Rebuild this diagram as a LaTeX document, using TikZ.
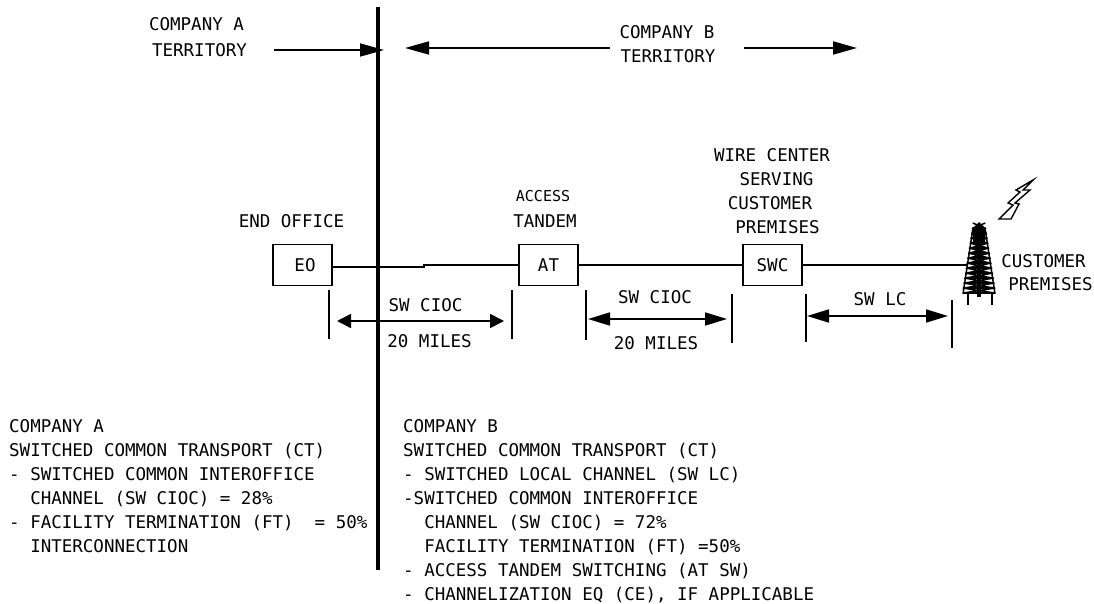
\documentclass[tikz,border=0pt]{standalone}
\usepackage{fontspec}
\setmainfont{DejaVu Sans Mono}
\usetikzlibrary{arrows.meta}
\tikzset{
	lbl/.style = {inner sep = 0, font = \fontsize{17.5}{24}\selectfont},
	block/.style = {lbl, align = left, anchor = north west},
	office/.style = {lbl, draw, line width = 1.7, minimum width = 59, minimum height = 41},
	wire/.style = {line width = 1.7},
	bigarrow/.style = {wire, -{Triangle[length = 24, width = 13]}},
	dimarrow/.style = {wire, {Triangle[length = 14, width = 14]}-{Triangle[length = 14, width = 14]}},
	longarrow/.style = {wire, {Triangle[length = 22, width = 13]}-{Triangle[length = 22, width = 13]}}
}
\begin{document}
\begin{tikzpicture}[x = 1pt, y = -1pt]
	\useasboundingbox (0, 0) rectangle (1094, 604);
	%	setup
	\def\wirey{265}
	
	%	border between the companies
	\coordinate (bordertop) at (378, 7);
	\coordinate (borderbot) at (378, 570);
	\draw[line width = 3.5] (bordertop) -- (borderbot);
	
	%	territories
	\node[lbl] (compa) at (196.5, 24) {COMPANY A};
	\node[lbl] (terra) at (199.5, 50) {TERRITORY};
	\node[lbl] (compb) at (667, 32) {COMPANY B};
	\node[lbl] (terrb) at (668, 56) {TERRITORY};
	\coordinate (aleft) at (274, 50);
	\coordinate (aright) at (384, 50);
	\coordinate (bleft) at (405, 48);
	\coordinate (bmid) at (610, 48);
	\coordinate (bmidr) at (744, 48);
	\coordinate (bright) at (857, 48);
	\draw[bigarrow] (aleft) -- (aright);
	\draw[bigarrow] (bmid) -- (bleft);
	\draw[bigarrow] (bmidr) -- (bright);
	
	%	offices
	\node[office] (eo) at (302.5, \wirey) {\hspace{5pt}EO};
	\node[office] (at) at (548.5, \wirey) {AT};
	\node[office] (swc) at (772.5, \wirey) {SWC\hspace{12pt}};
	\node[lbl] (endoffice) at (291.5, 221) {END OFFICE};
	\node[lbl, font = \fontsize{15}{18}\selectfont] (access) at (543, 196) {ACCESS};
	\node[lbl] (tandem) at (545, 221) {TANDEM};
	\node[lbl] (wirecenter) at (772, 155) {WIRE CENTER};
	\node[lbl] (serving) at (776.5, 179) {SERVING};
	\node[lbl] (customer) at (770, 203) {CUSTOMER};
	\node[lbl] (premises) at (777.5, 227) {PREMISES};
	
	%	line to the tower
	\coordinate (eoout) at (332, 267);
	\coordinate (jogl) at (424, 267);
	\coordinate (jogr) at (424, 265);
	\coordinate (towerin) at (967, \wirey);
	\draw[wire] (eoout) -- (jogl) -- (jogr) -- (at);
	\draw[wire] (at) -- (swc);
	\draw[wire] (swc) -- (towerin);
	
	%	tower
	\foreach \y in {228, 233, ..., 293} {
		\pgfmathsetmacro{\w}{5.5 + (\y - 228)*0.155}
		\pgfmathsetmacro{\wn}{5.5 + (\y - 223)*0.155}
		\draw[line width = 1.5] (979 - \w, \y) -- (979 + \w, \y);
		\draw[line width = 1.5] (979 - \wn, \y - 5) -- (979 + \w, \y) (979 + \wn, \y - 5) -- (979 - \w, \y);
	}
	\fill (979, 222) -- (985, 228) -- (985, 243) -- (973, 243) -- (973, 228) -- cycle;
	\draw[line width = 1.5] (973, 228) -- (963, 294) (985, 228) -- (995, 294);
	\draw[line width = 3.5] (979, 228) -- (979, 297);
	\draw[line width = 1.5] (968, 294) -- (968, 305) (992, 294) -- (992, 305);
	
	%	lightning
	\draw[line width = 1.4] (999, 219) -- (1011, 219) -- (1019, 204) -- (1015, 203) -- (1030, 190) -- (1023, 190) -- (1033, 180) -- (1016, 190) -- (1020, 192) -- (1008, 203) -- (1013, 205) -- cycle;
	
	\node[lbl] (custr) at (1043.5, 261) {CUSTOMER};
	\node[lbl] (premr) at (1050.5, 284) {PREMISES};
	
	%	spans
	\foreach \n/\x/\t/\b in {a/329/290/339, b/512/290/339, c/586/290/340, d/732/294/343, e/806/294/342, f/952/300/348} {
		\coordinate (tick\n t) at (\x, \t);
		\coordinate (tick\n b) at (\x, \b);
		\draw[line width = 1.4] (tick\n t) -- (tick\n b);
	}
	\coordinate (spanal) at (337, 321);
	\coordinate (spanar) at (504, 321);
	\coordinate (spanbl) at (588, 319);
	\coordinate (spanbr) at (727, 319);
	\coordinate (spancl) at (807, 316);
	\coordinate (spancr) at (948, 316);
	\draw[dimarrow] (spanal) -- (spanar);
	\draw[longarrow] (spanbl) -- (spanbr);
	\draw[longarrow] (spancl) -- (spancr);
	\node[lbl] (cioca) at (425.5, 305) {SW CIOC};
	\node[lbl] (milesa) at (429.5, 341) {20 MILES};
	\node[lbl] (ciocb) at (655, 297) {SW CIOC};
	\node[lbl] (milesb) at (656, 343) {20 MILES};
	\node[lbl] (swlc) at (880, 299) {SW LC};
	
	%	company texts
	\node[block] (blocka) at (9, 419) {COMPANY A\\SWITCHED COMMON TRANSPORT (CT)\\- SWITCHED COMMON INTEROFFICE\\\ \ CHANNEL (SW CIOC) = 28\%\\- FACILITY TERMINATION (FT)\ \ = 50\%\\\ \ INTERCONNECTION};
	\node[block] (blockb) at (403, 419) {COMPANY B\\SWITCHED COMMON TRANSPORT (CT)\\- SWITCHED LOCAL CHANNEL (SW LC)\\-SWITCHED COMMON INTEROFFICE\\\ \ CHANNEL (SW CIOC) = 72\%\\\ \ FACILITY TERMINATION (FT) =50\%\\- ACCESS TANDEM SWITCHING (AT SW)\\- CHANNELIZATION EQ (CE), IF APPLICABLE};
\end{tikzpicture}
\end{document}
